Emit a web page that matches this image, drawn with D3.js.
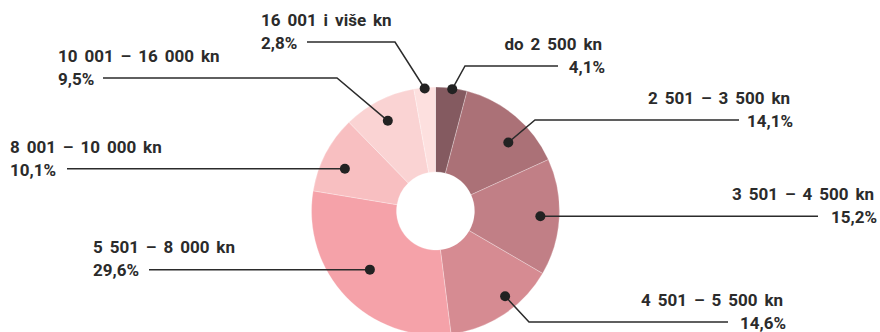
<!DOCTYPE html>
<html>
<head>
<meta charset="utf-8">
<script src="https://cdn.jsdelivr.net/npm/d3@7"></script>
<style>
  html, body { margin: 0; padding: 0; background: #fff; }
  svg { display: block; }
  text { font-family: Roboto, "Noto Sans", sans-serif; font-weight: 700; font-size: 17px; fill: #2b2b2b; word-spacing: 2.7px; }
</style>
</head>
<body>
<svg id="chart" width="880" height="332"></svg>
<script>
// Income brackets (net monthly, kn) and their share in percent
const categories = [
  "do 2 500 kn",
  "2 501 – 3 500 kn",
  "3 501 – 4 500 kn",
  "4 501 – 5 500 kn",
  "5 501 – 8 000 kn",
  "8 001 – 10 000 kn",
  "10 001 – 16 000 kn",
  "16 001 i više kn"
];
const shares = [4.1, 14.1, 15.2, 14.6, 29.6, 10.1, 9.5, 2.8];
const shareLabels = ["4,1%", "14,1%", "15,2%", "14,6%", "29,6%", "10,1%", "9,5%", "2,8%"];
const colors = ["#845a60", "#ab7177", "#c17f86", "#d68b92", "#f5a2a9", "#f8bfc1", "#fad3d3", "#fde0df"];

// Callout placement: where the dot sits in its slice (fraction of the slice's sweep,
// radius), where the leader bends and ends, and where the two text lines go.
const callouts = [
  { t: 0.53, r: 123, side: "right", textX: 605, baseY: 73,  bendX: 465,  endX: 558 },
  { t: 0.63, r: 100, side: "right", textX: 793, baseY: 127, bendX: 535,  endX: 739 },
  { t: 0.50, r: 105, side: "right", textX: 877, baseY: 223, bendX: null, endX: 818 },
  { t: 0.39, r: 110, side: "right", textX: 786, baseY: 329, bendX: 529,  endX: 728 },
  { t: 0.52, r: 88,  side: "left",  textX: 93,  baseY: 276, bendX: null, endX: 149 },
  { t: 0.43, r: 100, side: "left",  textX: 10,  baseY: 176, bendX: null, endX: 67 },
  { t: 0.48, r: 102, side: "left",  textX: 58,  baseY: 85,  bendX: 337,  endX: 103 },
  { t: 0.50, r: 123, side: "left",  textX: 261, baseY: 49,  bendX: 395,  endX: 307 }
];

const cx = 435.5, cy = 211, outerR = 124, innerR = 39;
const svg = d3.select("#chart");
const g = svg.append("g").attr("transform", `translate(${cx},${cy})`);

const pie = d3.pie().sort(null).value(d => d);
const arcs = pie(shares);
const arc = d3.arc().innerRadius(innerR).outerRadius(outerR);

g.selectAll("path.slice")
  .data(arcs)
  .join("path")
  .attr("class", "slice")
  .attr("d", arc)
  .attr("fill", (d, i) => colors[i])
  .attr("stroke", "rgba(255,255,255,0.35)")
  .attr("stroke-width", 0.8);

// Dots and leader lines
const dotPos = arcs.map((a, i) => {
  const c = callouts[i];
  const ang = a.startAngle + (a.endAngle - a.startAngle) * c.t;
  return [cx + c.r * Math.sin(ang), cy - c.r * Math.cos(ang)];
});

const leaders = svg.append("g");
callouts.forEach((c, i) => {
  const [dx, dy] = dotPos[i];
  const pts = [];
  if (c.bendX === null) {
    pts.push([dx, dy], [c.endX, dy]);
  } else {
    const ly = c.baseY - 7;
    pts.push([dx, dy], [c.bendX, ly], [c.endX, ly]);
  }
  leaders.append("path")
    .attr("d", d3.line()(pts))
    .attr("fill", "none")
    .attr("stroke", "#2b2b2b")
    .attr("stroke-width", 1.5);
  leaders.append("circle")
    .attr("cx", dx).attr("cy", dy).attr("r", 5)
    .attr("fill", "#222");
});

// Labels
const labels = svg.append("g");
callouts.forEach((c, i) => {
  const anchor = c.side === "right" ? "end" : "start";
  labels.append("text")
    .attr("x", c.side === "right" ? c.textX - 3 : c.textX)
    .attr("y", c.baseY - 23)
    .attr("text-anchor", anchor)
    .text(categories[i]);
  labels.append("text")
    .attr("x", c.textX)
    .attr("y", c.baseY)
    .attr("text-anchor", anchor)
    .text(shareLabels[i]);
});
</script>
</body>
</html>
